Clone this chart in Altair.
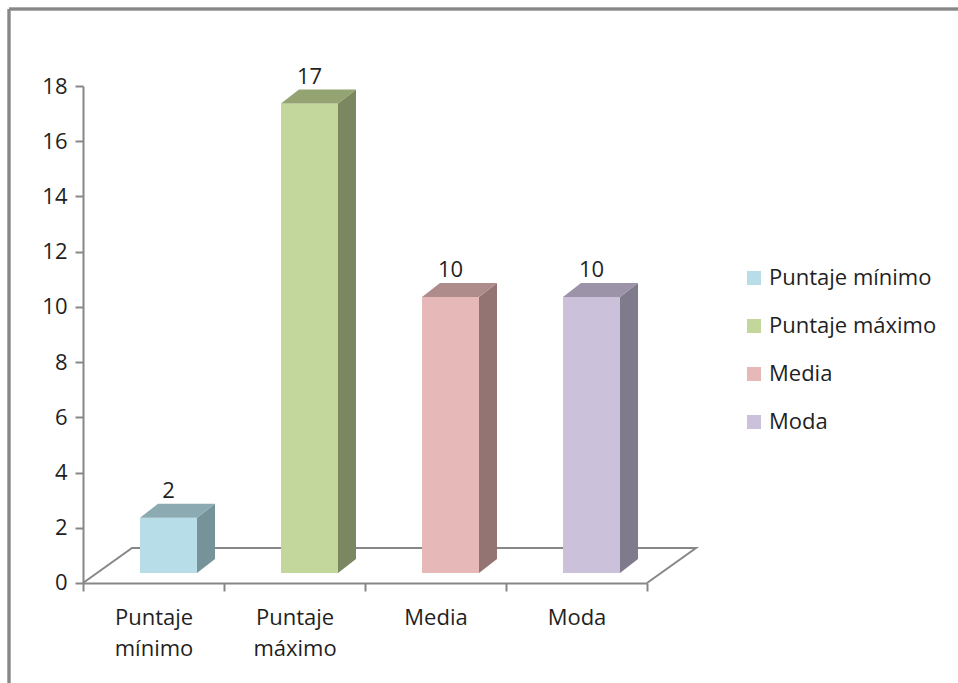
import altair as alt
import pandas as pd

# chart values
categories = ["Puntaje mínimo", "Puntaje máximo", "Media", "Moda"]
values = [2, 17, 10, 10]
front_colors = ["#B7DEE8", "#C3D69B", "#E6B9B8", "#CCC1DA"]
top_colors = ["#8CAAB1", "#93A371", "#AE8C8B", "#9C93A8"]
side_colors = ["#77939A", "#7B8760", "#937473", "#807A8D"]
y_ticks = list(range(0, 19, 2))

FONT = "Open Sans"
GRAY = "#878787"
TEXT = "#1f1f1f"

# pseudo-3D projection, expressed in data units of the x (category) and y (value) scales
PX_X = 141.0          # pixels per category slot
PX_Y = 27.61          # pixels per value unit
W = 4 * PX_X
H = 18 * PX_Y
FACE_LEFT = 57 / PX_X
FACE_W = 57 / PX_X
LIFT = 10 / PX_Y      # bars stand a little into the floor
DEPTH_X = 18 / PX_X
DEPTH_Y = 14 / PX_Y
FLOOR_X = 49 / PX_X
FLOOR_Y = 35 / PX_Y

front_rows, side_rows, top_rows, label_rows = [], [], [], []
for i, (cat, v) in enumerate(zip(categories, values)):
    x0 = i + FACE_LEFT
    x1 = x0 + FACE_W
    front_rows.append(dict(cat=cat, value=v, x0=x0, x1=x1, y0=LIFT, y1=v + LIFT))
    for k in (0, 1):
        side_rows.append(dict(cat=cat, fill=side_colors[i],
                              x=x1 + k * DEPTH_X,
                              yb=LIFT + k * DEPTH_Y,
                              yt=v + LIFT + k * DEPTH_Y))
        top_rows.append(dict(cat=cat, fill=top_colors[i],
                             y=v + LIFT + k * DEPTH_Y,
                             xa=x0 + k * DEPTH_X,
                             xb=x1 + k * DEPTH_X))
    label_rows.append(dict(cat=cat, value=v, x=x0 + FACE_W / 2, y=v + LIFT + DEPTH_Y))

front = pd.DataFrame(front_rows)
side = pd.DataFrame(side_rows)
top = pd.DataFrame(top_rows)
labels = pd.DataFrame(label_rows)
floor = pd.DataFrame({
    "o": [0, 1, 2, 3],
    "x": [0, FLOOR_X, 4 + FLOOR_X, 4],
    "y": [0, FLOOR_Y, FLOOR_Y, 0],
})

xq = alt.Scale(domain=[0, 4], nice=False, zero=False)
yq = alt.Scale(domain=[0, 18], nice=False, zero=False)
y_axis = alt.Axis(values=y_ticks, title=None, grid=False)

floor_layer = alt.Chart(floor).mark_line(color=GRAY, strokeWidth=2).encode(
    x=alt.X("x:Q", scale=xq, axis=None),
    y=alt.Y("y:Q", scale=yq, axis=y_axis),
    order="o:Q",
)

front_layer = alt.Chart(front).mark_rect().encode(
    x=alt.X("x0:Q", scale=xq, axis=None),
    x2="x1",
    y=alt.Y("y0:Q", scale=yq, axis=y_axis),
    y2="y1",
    color=alt.Color(
        "cat:N",
        scale=alt.Scale(domain=categories, range=front_colors),
        sort=categories,
        legend=alt.Legend(
            title=None, orient="none", legendX=660, legendY=181,
            symbolType="square", symbolSize=196, symbolStrokeWidth=0,
            labelFont=FONT, labelFontSize=22, labelColor=TEXT, labelLimit=0,
            labelOffset=4, rowPadding=26, padding=0,
        ),
    ),
)

side_layer = alt.Chart(side).mark_area(orient="vertical").encode(
    x=alt.X("x:Q", scale=xq, axis=None),
    y=alt.Y("yb:Q", scale=yq, axis=y_axis),
    y2="yt",
    fill=alt.Fill("fill:N", scale=None),
    detail="cat:N",
)

top_layer = alt.Chart(top).mark_area(orient="horizontal").encode(
    y=alt.Y("y:Q", scale=yq, axis=y_axis),
    x=alt.X("xa:Q", scale=xq, axis=None),
    x2="xb",
    fill=alt.Fill("fill:N", scale=None),
    detail="cat:N",
)

value_layer = alt.Chart(labels).mark_text(
    font=FONT, fontSize=22, color=TEXT, baseline="alphabetic", dy=-6
).encode(
    x=alt.X("x:Q", scale=xq, axis=None),
    y=alt.Y("y:Q", scale=yq, axis=y_axis),
    text="value:Q",
)

# outer frame around the chart
frame_top = alt.Chart(floor).mark_rule(color=GRAY, strokeWidth=2.5).encode(
    x=alt.value(-74), x2=alt.value(900), y=alt.value(-77)
)
frame_left = alt.Chart(floor).mark_rule(color=GRAY, strokeWidth=2.5).encode(
    x=alt.value(-74), y=alt.value(-77), y2=alt.value(620)
)

plot = alt.layer(floor_layer, front_layer, side_layer, top_layer, value_layer,
                 frame_top, frame_left)

# category axis: band scale with ticks on the band edges
cat_axis = alt.Chart(front).mark_tick(opacity=0).encode(
    x=alt.X(
        "cat:N", sort=categories,
        scale=alt.Scale(paddingInner=0, paddingOuter=0),
        axis=alt.Axis(
            title=None, tickBand="extent", labelAngle=0,
            labelExpr="split(datum.label, ' ')", labelLineHeight=31,
            labelPadding=17, domainColor=GRAY, domainWidth=2,
            tickColor=GRAY, tickWidth=2, tickSize=8,
            labelFont=FONT, labelFontSize=22, labelColor=TEXT,
        ),
    ),
)

chart = alt.layer(cat_axis, plot).resolve_scale(x="independent").properties(
    width=W, height=H,
    autosize=alt.AutoSizeParams(type="none"),
    padding={"left": 83, "top": 86, "right": 958 - 83 - W, "bottom": 683 - 86 - H},
    background="white",
).configure_view(stroke=None).configure_axisY(
    domainColor=GRAY, domainWidth=2, tickColor=GRAY, tickWidth=2, tickSize=8,
    labelPadding=8, labelFont=FONT, labelFontSize=22, labelColor=TEXT,
)

chart.save("out.html", embed_options={"renderer": "svg", "actions": False})
